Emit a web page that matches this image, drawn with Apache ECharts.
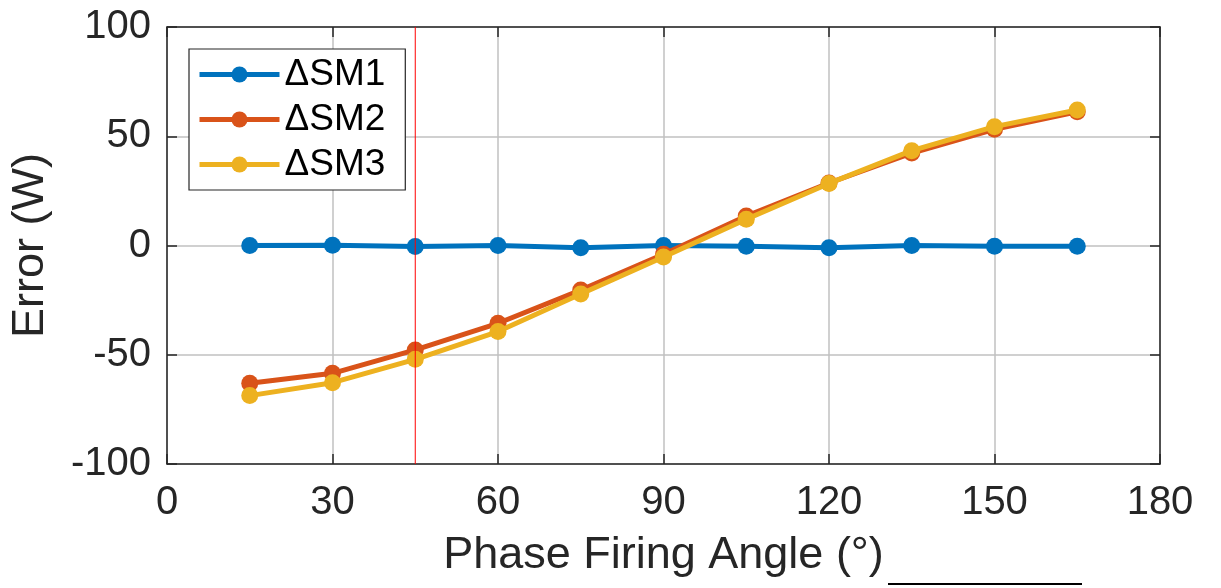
<!DOCTYPE html>
<html><head><meta charset="utf-8">
<script src="https://cdn.jsdelivr.net/npm/echarts@6/dist/echarts.min.js"></script>
<style>html,body{margin:0;padding:0;background:#fff}#c{width:1221px;height:588px}</style>
</head><body><div id="c"></div>
<script>
const angles = [15, 30, 45, 60, 75, 90, 105, 120, 135, 150, 165];
const sm1 = [0, 0.1, -0.5, 0, -1, 0, -0.3, -1, 0, -0.3, -0.3];
const sm2 = [-63, -58.5, -47.8, -35.6, -20.4, -4, 13.5, 28.6, 42.3, 53.2, 61.2];
const sm3 = [-68.7, -62.8, -52.1, -39.4, -22.2, -5.3, 12, 28.4, 43.4, 54.4, 62];
const seriesNames = ['\u0394SM1', '\u0394SM2', '\u0394SM3'];
const colors = ['#0072BD', '#D95319', '#EDB120'];
const xTicks = [0, 30, 60, 90, 120, 150, 180];
const yTicks = [-100, -50, 0, 50, 100];
const markerAngle = 45;

const font = 'Liberation Sans, Arial, Helvetica, sans-serif';
const chart = echarts.init(document.getElementById('c'));
const mk = (vals) => angles.map((a, i) => [a, vals[i]]);
const datas = [sm1, sm2, sm3];
const series = datas.map((d, i) => ({
  name: seriesNames[i], type: 'line', data: mk(d),
  symbol: 'circle', symbolSize: 17, showSymbol: true,
  lineStyle: {width: 5, color: colors[i]},
  itemStyle: {color: colors[i]},
  z: 3 + i, animation: false
}));
series.push({
  name: 'marker', type: 'line', silent: true,
  data: [[markerAngle, yTicks[0]], [markerAngle, yTicks[yTicks.length - 1]]],
  symbol: 'none', lineStyle: {color: '#FF0000', width: 1}, itemStyle: {color: '#FF0000'},
  z: 10, animation: false
});

const axCommon = {
  axisLine: {show: true, onZero: false, lineStyle: {color: '#262626', width: 1.5}},
  axisTick: {show: true, inside: true, length: 10, lineStyle: {color: '#262626', width: 1.5}},
};
chart.setOption({
  animation: false,
  grid: {left: 167, right: 61, top: 27, bottom: 124, show: false},
  legend: {
    left: 189, top: 49, orient: 'vertical',
    data: seriesNames,
    itemWidth: 80, itemHeight: 20, itemGap: 8,
    padding: [7, 20, 7, 8],
    lineStyle: {width: 5},
    borderColor: '#262626', borderWidth: 1.2, backgroundColor: '#fff',
    textStyle: {fontFamily: font, fontSize: 37, color: '#000'}
  },
  xAxis: [{
    type: 'value', min: 0, max: 180, interval: 30,
    name: 'Phase Firing Angle (\u00b0)', nameLocation: 'middle', nameGap: 69,
    nameTextStyle: {fontFamily: font, fontSize: 45, color: '#262626'},
    axisLabel: {fontFamily: font, fontSize: 40, color: '#262626', margin: 19},
    splitLine: {show: true, lineStyle: {color: '#c0c0c0', width: 1.5}},
    ...axCommon
  }, {
    type: 'value', min: 0, max: 180, interval: 30, position: 'top',
    axisLabel: {show: false}, splitLine: {show: false}, ...axCommon
  }],
  yAxis: [{
    type: 'value', min: -100, max: 100, interval: 50,
    name: 'Error (W)', nameLocation: 'middle', nameGap: 114,
    nameTextStyle: {fontFamily: font, fontSize: 45, color: '#262626'},
    axisLabel: {fontFamily: font, fontSize: 40, color: '#262626', margin: 16},
    splitLine: {show: true, lineStyle: {color: '#c0c0c0', width: 1.5}},
    ...axCommon
  }, {
    type: 'value', min: -100, max: 100, interval: 50, position: 'right',
    axisLabel: {show: false}, splitLine: {show: false}, ...axCommon
  }],
  graphic: [{
    type: 'line', shape: {x1: 888, y1: 584, x2: 1082, y2: 584},
    style: {stroke: '#000', lineWidth: 2}
  }],
  series: series
});
</script></body></html>
